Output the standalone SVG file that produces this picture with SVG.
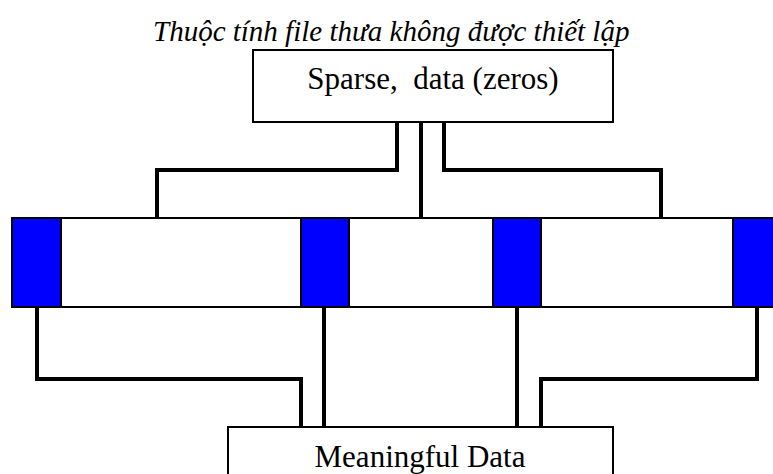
<svg xmlns="http://www.w3.org/2000/svg" width="773" height="474" viewBox="0 0 773 474">
<style>
.box{fill:#fff;stroke:#000;stroke-width:2}
.blk{fill:#0000ff;stroke:#000;stroke-width:2}
.lbl{font-family:"Liberation Serif","Times New Roman",serif;font-size:31px;fill:#000}
.title{font-family:"Liberation Serif","Times New Roman",serif;font-size:29px;font-style:italic;fill:#000}
.con{fill:none;stroke:#000;stroke-width:4;stroke-linejoin:miter;stroke-linecap:butt}
</style>
<rect width="773" height="474" fill="#fff"/>
<g id="title"><text class="title" x="153" y="41">Thuộc tính file thưa không được thiết lập</text></g>
<g id="sparse"><rect class="box" x="253" y="50" width="360" height="72"/><text class="lbl" x="433" y="89" text-anchor="middle" xml:space="preserve">Sparse,  data (zeros)</text></g>
<g id="file">
<rect class="box" x="12" y="218" width="770" height="89"/>
<rect class="blk" x="12" y="218" width="49" height="89"/>
<rect class="blk" x="301" y="218" width="48" height="89"/>
<rect class="blk" x="493" y="218" width="48" height="89"/>
<rect class="blk" x="733" y="218" width="48" height="89"/>
</g>
<g id="meaningful"><rect class="box" x="228" y="427" width="385" height="60"/><text class="lbl" x="420" y="467" text-anchor="middle">Meaningful Data</text></g>
<g id="connectors">
<polyline class="con" points="397,122 397,170 157,170 157,218"/>
<polyline class="con" points="421,122 421,218"/>
<polyline class="con" points="444,122 444,170 661,170 661,218"/>
<polyline class="con" points="37,307 37,379 301,379 301,427"/>
<polyline class="con" points="324,307 324,427"/>
<polyline class="con" points="517,307 517,427"/>
<polyline class="con" points="757,307 757,379 541,379 541,427"/>
</g>
</svg>
